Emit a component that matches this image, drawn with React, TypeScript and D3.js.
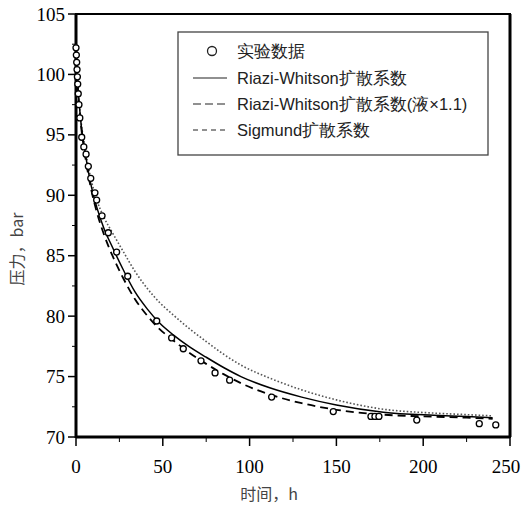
import React, { useEffect, useRef } from "react";
import * as d3 from "d3";

// experimental points (time h, pressure bar)
const expTime = [0, 0.2, 0.4, 0.6, 0.8, 1.0, 1.3, 1.7, 2.2, 3.3, 4.5, 5.8, 7.1, 8.5, 10.9, 11.9, 15, 18.6, 23.4, 29.8, 46.5, 55.1, 61.8, 72, 80.1, 88.5, 112.7, 148.2, 169.9, 172.2, 174.5, 196.3, 232.3, 241.8];
const expPress = [102.2, 101.6, 101.0, 100.4, 99.8, 99.2, 98.4, 97.5, 96.4, 94.8, 94.0, 93.4, 92.4, 91.4, 90.2, 89.6, 88.3, 86.9, 85.3, 83.3, 79.6, 78.2, 77.3, 76.3, 75.3, 74.7, 73.3, 72.1, 71.7, 71.7, 71.7, 71.4, 71.1, 71.0];

// model curves
const curveTime = [0, 1, 2, 3, 5, 8, 12, 16, 21, 27, 34, 41, 48, 56, 65, 75, 85, 95, 112, 130, 150, 177, 206, 225, 240];
const riaziPress = [102.2, 99.2, 97.3, 95.8, 93.8, 91.3, 89.0, 87.3, 85.7, 83.9, 82.0, 80.6, 79.45, 78.45, 77.5, 76.6, 75.75, 75.0, 74.05, 73.3, 72.65, 72.05, 71.8, 71.7, 71.6];
const riaziLiqPress = [102.2, 99.0, 97.1, 95.6, 93.5, 91.0, 88.6, 86.8, 85.0, 83.2, 81.4, 80.05, 78.95, 78.0, 77.0, 76.05, 75.2, 74.45, 73.5, 72.8, 72.25, 71.85, 71.68, 71.6, 71.5];
const sigmundPress = [102.2, 99.3, 97.45, 96.0, 94.1, 91.75, 89.6, 88.2, 86.9, 85.4, 83.7, 82.3, 81.15, 80.1, 79.0, 77.9, 76.85, 75.95, 74.85, 73.9, 73.07, 72.3, 71.98, 71.85, 71.75];

const xTicks = [0, 50, 100, 150, 200, 250];
const yTicks = [70, 75, 80, 85, 90, 95, 100, 105];
const legendLabels = ["实验数据", "Riazi-Whitson扩散系数", "Riazi-Whitson扩散系数(液×1.1)", "Sigmund扩散系数"];

export default function App() {
  const ref = useRef<SVGSVGElement>(null);

  useEffect(() => {
    const svg = d3.select(ref.current);
    svg.selectAll("*").remove();

    const left = 76, right = 510, top = 14, bottom = 437;
    const x = d3.scaleLinear().domain([0, 250]).range([left, right]);
    const y = d3.scaleLinear().domain([70, 105]).range([bottom, top]);
    const serif = "'Liberation Serif', 'DejaVu Serif', serif";
    const sans = "'Liberation Sans', Arial, sans-serif";

    // ticks, major + minor
    const g = svg.append("g");
    d3.range(0, 251, 25).forEach((t) => {
      const major = t % 50 === 0;
      g.append("line").attr("x1", x(t)).attr("x2", x(t))
        .attr("y1", bottom).attr("y2", bottom + (major ? 9 : 5))
        .attr("stroke", "#000").attr("stroke-width", major ? 1.5 : 1);
    });
    d3.range(70, 105.1, 2.5).forEach((p) => {
      const major = p % 5 === 0;
      g.append("line").attr("y1", y(p)).attr("y2", y(p))
        .attr("x1", left).attr("x2", left - (major ? 8 : 4))
        .attr("stroke", "#000").attr("stroke-width", major ? 1.5 : 1);
    });

    // tick labels (last one kept inside the page)
    g.selectAll(".xl").data(xTicks).join("text")
      .attr("x", (d) => Math.min(x(d), 506)).attr("y", 473)
      .attr("text-anchor", "middle")
      .attr("font-family", serif).attr("font-size", 19)
      .text((d) => d);
    g.selectAll(".yl").data(yTicks).join("text")
      .attr("x", 65).attr("y", (d) => y(d) + 6.5)
      .attr("text-anchor", "end")
      .attr("font-family", serif).attr("font-size", 19)
      .text((d) => d);

    // frame
    svg.append("rect").attr("x", left).attr("y", top)
      .attr("width", right - left).attr("height", bottom - top)
      .attr("fill", "none").attr("stroke", "#000").attr("stroke-width", 2);
    svg.append("line").attr("x1", left).attr("x2", left).attr("y1", top).attr("y2", bottom + 1)
      .attr("stroke", "#000").attr("stroke-width", 3);
    svg.append("line").attr("x1", left).attr("x2", right).attr("y1", bottom).attr("y2", bottom)
      .attr("stroke", "#000").attr("stroke-width", 3);
    svg.append("line").attr("x1", right).attr("x2", right).attr("y1", top).attr("y2", bottom)
      .attr("stroke", "#000").attr("stroke-width", 3);

    // curves
    const line = d3.line<number>()
      .x((_, i) => x(curveTime[i]))
      .y((d) => y(d))
      .curve(d3.curveMonotoneX);
    svg.append("path").attr("d", line(sigmundPress)).attr("fill", "none")
      .attr("stroke", "#555").attr("stroke-width", 1.6).attr("stroke-dasharray", "1.6,2");
    svg.append("path").attr("d", line(riaziPress)).attr("fill", "none")
      .attr("stroke", "#000").attr("stroke-width", 1.5);
    svg.append("path").attr("d", line(riaziLiqPress)).attr("fill", "none")
      .attr("stroke", "#000").attr("stroke-width", 1.8).attr("stroke-dasharray", "8,5");

    // experimental points
    svg.selectAll(".pt").data(expTime).join("circle")
      .attr("cx", (d) => x(d)).attr("cy", (_, i) => y(expPress[i]))
      .attr("r", 3).attr("fill", "#fff").attr("stroke", "#000").attr("stroke-width", 1.3);

    // legend
    const lg = svg.append("g");
    lg.append("rect").attr("x", 178).attr("y", 32).attr("width", 310).attr("height", 123)
      .attr("fill", "#fff").attr("stroke", "#444").attr("stroke-width", 1.3);
    const rowsY = [51, 78, 104, 130];
    lg.append("circle").attr("cx", 212).attr("cy", rowsY[0]).attr("r", 4.5)
      .attr("fill", "none").attr("stroke", "#222").attr("stroke-width", 1.3);
    const dashes = [null, null, "8,4", "5,4"];
    [1, 2, 3].forEach((i) => {
      const l = lg.append("line").attr("x1", 193).attr("x2", 227)
        .attr("y1", rowsY[i]).attr("y2", rowsY[i])
        .attr("stroke", "#222").attr("stroke-width", 1.2);
      if (dashes[i]) l.attr("stroke-dasharray", dashes[i] as string);
    });
    lg.selectAll(".lt").data(legendLabels).join("text")
      .attr("x", 237).attr("y", (_, i) => rowsY[i] + 6)
      .attr("font-family", sans).attr("font-size", 16.5).attr("fill", "#222")
      .text((d) => d);

    // axis titles
    svg.append("text").attr("x", 269).attr("y", 500).attr("text-anchor", "middle")
      .attr("font-family", "'Noto Sans CJK SC', sans-serif").attr("font-size", 16).attr("fill", "#444")
      .text("时间，h");
    svg.append("text").attr("transform", "translate(23,249) rotate(-90)").attr("text-anchor", "middle")
      .attr("font-family", "'Noto Sans CJK SC', sans-serif").attr("font-size", 16).attr("fill", "#444")
      .text("压力，bar");
  }, []);

  return (
    <svg ref={ref} width={521} height={506}
      style={{ position: "absolute", left: 0, top: 0, background: "#fff" }} />
  );
}
